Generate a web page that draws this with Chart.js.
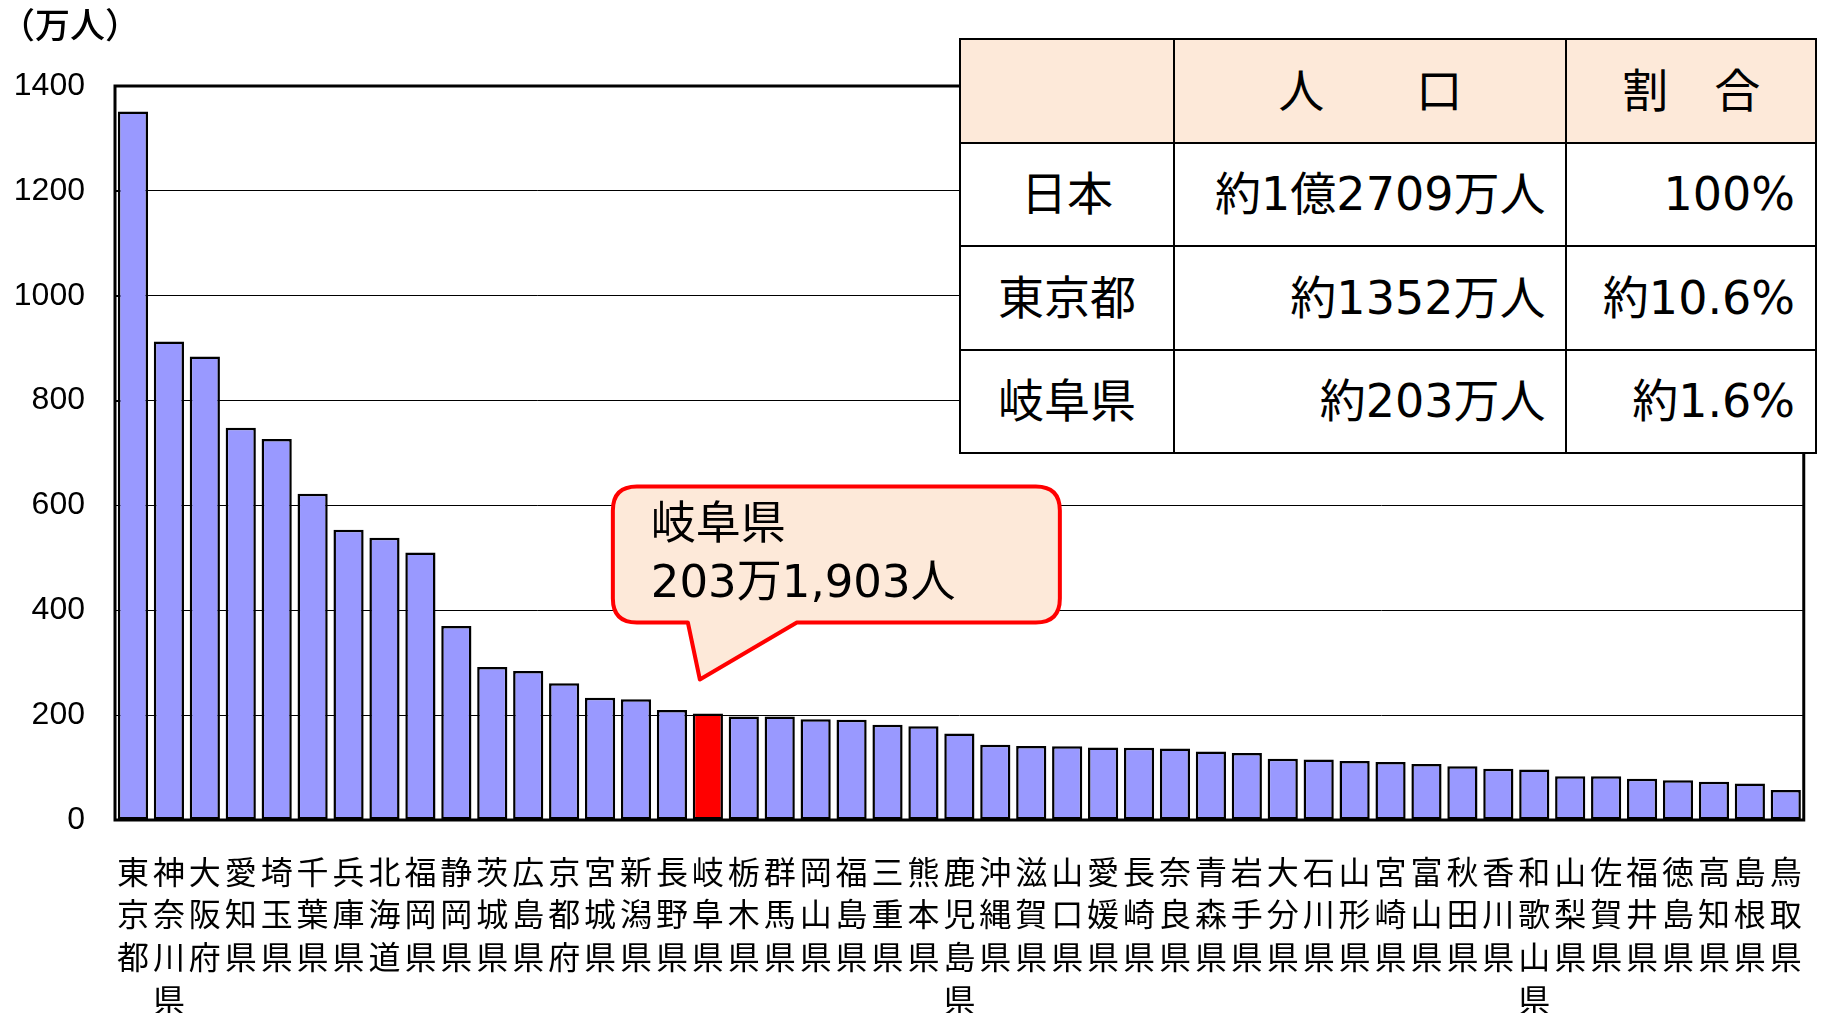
<!DOCTYPE html>
<html>
<head>
<meta charset="utf-8">
<script src="https://cdn.jsdelivr.net/npm/chart.js@4"></script>
<style>
  body { margin: 0; background: #fff; }
  #wrap { position: relative; width: 1824px; height: 1013px; }
  #popTable {
    position: absolute; left: 959px; top: 38px; width: 858px; height: 416px;
    border-collapse: collapse; background: #fff;
    font-family: "DejaVu Sans", "Noto Sans CJK JP", sans-serif; font-size: 46px; color: #000;
  }
  #popTable td { border: 2px solid #000; height: 100px; padding: 0 20px; line-height: 1; white-space: nowrap; }
  #popTable tr.head td { background: #fde9d9; text-align: center; }
  #popTable td.name { text-align: center; }
  #popTable td.num { text-align: right; }
</style>
</head>
<body>
<div id="wrap">
  <canvas id="popChart" width="1824" height="1013"></canvas>
  <table id="popTable">
    <colgroup><col style="width:215px"><col style="width:393px"><col style="width:250px"></colgroup>
    <tr class="head"><td></td><td>人　　口</td><td>割　合</td></tr>
    <tr><td class="name">日本</td><td class="num">約1億2709万人</td><td class="num">100%</td></tr>
    <tr><td class="name">東京都</td><td class="num">約1352万人</td><td class="num">約10.6%</td></tr>
    <tr><td class="name">岐阜県</td><td class="num">約203万人</td><td class="num">約1.6%</td></tr>
  </table>
</div>
<script>
// data (万人)
const prefectures = [
  "東京都", "神奈川県", "大阪府", "愛知県", "埼玉県", "千葉県", "兵庫県", "北海道",
  "福岡県", "静岡県", "茨城県", "広島県", "京都府", "宮城県", "新潟県", "長野県",
  "岐阜県", "栃木県", "群馬県", "岡山県", "福島県", "三重県", "熊本県", "鹿児島県",
  "沖縄県", "滋賀県", "山口県", "愛媛県", "長崎県", "奈良県", "青森県", "岩手県",
  "大分県", "石川県", "山形県", "宮崎県", "富山県", "秋田県", "香川県", "和歌山県",
  "山梨県", "佐賀県", "福井県", "徳島県", "高知県", "島根県", "鳥取県"
];
const population = [
  1351.5, 912.6, 883.9, 748.3, 726.7, 622.3, 553.5, 538.2,
  510.2, 370.0, 291.7, 284.4, 261.0, 233.4, 230.4, 209.9,
  203.2, 197.4, 197.3, 192.2, 191.4, 181.6, 178.6, 164.8,
  143.4, 141.3, 140.5, 138.5, 137.7, 136.4, 130.8, 128.0,
  116.6, 115.4, 112.4, 110.4, 106.6, 102.3, 97.6, 96.4,
  83.5, 83.3, 78.7, 75.6, 72.8, 69.4, 57.3
];
const yTicks = [0, 200, 400, 600, 800, 1000, 1200, 1400];
const highlight = "岐阜県";
const calloutLines = ["岐阜県", "203万1,903人"];
const unitLabel = "（万人）";

const hiIndex = prefectures.indexOf(highlight);
const cjk = '"Noto Sans CJK JP", sans-serif';

// frame around plot area, small inner ticks, unit label
const framePlugin = {
  id: "frame",
  beforeDatasetsDraw(chart) {
    const { ctx, chartArea: a } = chart;
    const y = chart.scales.y;
    ctx.save();
    ctx.strokeStyle = "#000";
    ctx.lineWidth = 1;
    yTicks.forEach(v => {
      const py = Math.round(y.getPixelForValue(v)) + 0.5;
      ctx.beginPath();
      ctx.moveTo(a.left, py);
      ctx.lineTo(a.left + 10, py);
      ctx.stroke();
    });
    ctx.lineWidth = 3;
    ctx.strokeRect(a.left, a.top, a.right - a.left, a.bottom - a.top);
    ctx.restore();
  },
  afterDraw(chart) {
    const ctx = chart.ctx;
    ctx.save();
    ctx.fillStyle = "#000";
    ctx.font = "500 35px " + cjk;
    ctx.textBaseline = "middle";
    ctx.fillText(unitLabel, 0, 25);
    ctx.restore();
  }
};

// speech bubble pointing at the highlighted bar
const calloutPlugin = {
  id: "callout",
  afterDatasetsDraw(chart) {
    const bar = chart.getDatasetMeta(0).data[hiIndex];
    const ctx = chart.ctx;
    const tx = bar.x - 8, ty = bar.y - 34;
    const l = tx - 87, r = tx + 360, t = ty - 193, b = ty - 57, rad = 24;
    ctx.save();
    ctx.beginPath();
    ctx.moveTo(l + rad, t);
    ctx.lineTo(r - rad, t);
    ctx.quadraticCurveTo(r, t, r, t + rad);
    ctx.lineTo(r, b - rad);
    ctx.quadraticCurveTo(r, b, r - rad, b);
    ctx.lineTo(tx + 97, b);
    ctx.lineTo(tx, ty);
    ctx.lineTo(tx - 12, b);
    ctx.lineTo(l + rad, b);
    ctx.quadraticCurveTo(l, b, l, b - rad);
    ctx.lineTo(l, t + rad);
    ctx.quadraticCurveTo(l, t, l + rad, t);
    ctx.closePath();
    ctx.fillStyle = "#fde9d9";
    ctx.fill();
    ctx.lineWidth = 4;
    ctx.strokeStyle = "#ff0000";
    ctx.lineJoin = "round";
    ctx.stroke();
    ctx.fillStyle = "#000";
    ctx.font = '45px "DejaVu Sans", ' + cjk;
    ctx.textBaseline = "middle";
    ctx.fillText(calloutLines[0], l + 38, t + 41);
    ctx.fillText(calloutLines[1], l + 38, t + 99);
    ctx.restore();
  }
};

new Chart(document.getElementById("popChart"), {
  type: "bar",
  data: {
    labels: prefectures.map(p => p.split("")),
    datasets: [{
      data: population,
      backgroundColor: prefectures.map((p, i) => i === hiIndex ? "#ff0000" : "#9999ff"),
      borderColor: "#000",
      borderWidth: 2.5,
      borderSkipped: false,
      categoryPercentage: 1,
      barPercentage: 0.84
    }]
  },
  options: {
    responsive: false,
    animation: false,
    events: [],
    layout: { padding: { top: 86, right: 20, left: 0, bottom: 0 } },
    plugins: { legend: { display: false }, tooltip: { enabled: false } },
    scales: {
      x: {
        grid: { display: false },
        border: { display: false },
        ticks: {
          autoSkip: false, maxRotation: 0, minRotation: 0,
          color: "#000", padding: 22,
          font: { family: cjk, size: 32, lineHeight: 1.34 }
        },
        afterFit(scale) { scale.height = 193; }
      },
      y: {
        min: 0, max: 1400,
        afterBuildTicks(scale) { scale.ticks = yTicks.map(v => ({ value: v })); },
        grid: { color: "#000", lineWidth: 1, drawTicks: false },
        border: { display: false },
        ticks: {
          color: "#000", padding: 30,
          callback: v => String(v),
          font: { family: '"Liberation Sans", sans-serif', size: 32 }
        },
        afterFit(scale) { scale.width = 115; }
      }
    }
  },
  plugins: [framePlugin, calloutPlugin]
});
</script>
</body>
</html>
